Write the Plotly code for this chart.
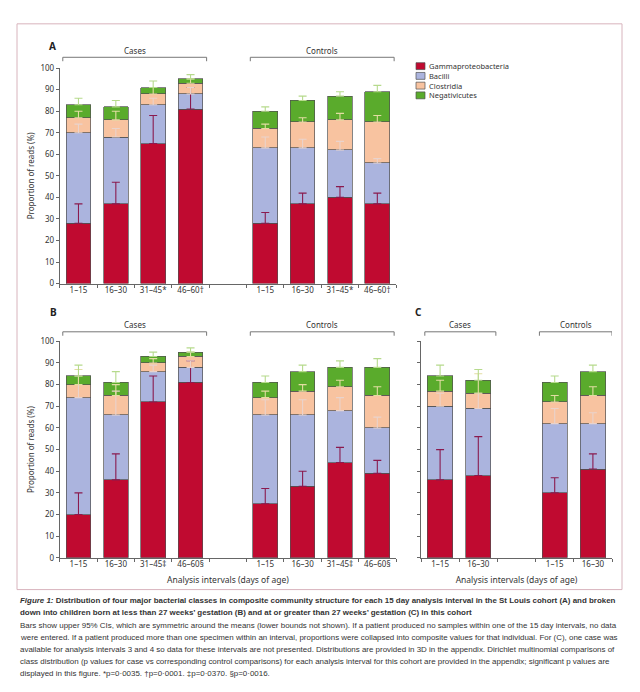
import plotly.graph_objects as go
import numpy as np

# The page body has an 8px margin; the figure is sized to fill the rest of the window.
OFF = 8
W, H = 640 - OFF, 692 - OFF

CLASSES = ["Gammaproteobacteria", "Bacilli", "Clostridia", "Negativicutes"]
COLORS = ["#c00a30", "#abb4de", "#f8c3a0", "#5aab2c"]
ERR_COLORS = ["#8a1a4e", "#e9d3cc", "#e2dda2", "#b6da8c"]

# ---- Panel A: all infants ----
A_pos = [0, 1, 2, 3, 5, 6, 7, 8]
A_labels = ["1–15", "16–30", "31–45*", "46–60†", "1–15", "16–30", "31–45*", "46–60†"]
A_gamma = [28, 37, 65, 81, 28, 37, 40, 37]
A_bacilli = [42, 31, 18, 7, 35, 26, 22, 19]
A_clostridia = [7, 8, 5, 5, 9, 12, 14, 19]
A_negativicutes = [6, 6, 3, 2, 8, 10, 11, 14]
A_gamma_err = [9, 10, 13, 10, 5, 5, 5, 5]
A_bacilli_err = [4, 4, 3, 3, 5, 4, 4, 2]
A_clostridia_err = [3, 4, 3, 2, 2, 2, 3, 3]
A_negativicutes_err = [3, 3, 3, 2, 2, 2, 2, 3]

# ---- Panel B: <27 weeks' gestation ----
B_pos = [0, 1, 2, 3, 5, 6, 7, 8]
B_labels = ["1–15", "16–30", "31–45‡", "46–60§", "1–15", "16–30", "31–45‡", "46–60§"]
B_gamma = [20, 36, 72, 81, 25, 33, 44, 39]
B_bacilli = [54, 30, 14, 7, 41, 33, 24, 21]
B_clostridia = [6, 9, 4, 5, 8, 11, 11, 15]
B_negativicutes = [4, 6, 3, 2, 7, 9, 9, 13]
B_gamma_err = [10, 12, 12, 10, 7, 7, 7, 6]
B_bacilli_err = [10, 11, 3, 3, 7, 7, 6, 5]
B_clostridia_err = [7, 5, 2, 2, 3, 3, 3, 4]
B_negativicutes_err = [5, 5, 2, 2, 3, 3, 3, 4]

# ---- Panel C: >=27 weeks' gestation ----
C_pos = [0, 1, 3, 4]
C_labels = ["1–15", "16–30", "1–15", "16–30"]
C_gamma = [36, 38, 30, 41]
C_bacilli = [34, 31, 32, 21]
C_clostridia = [7, 7, 10, 13]
C_negativicutes = [7, 6, 9, 11]
C_gamma_err = [14, 18, 7, 7]
C_bacilli_err = [6, 7, 7, 5]
C_clostridia_err = [5, 9, 3, 4]
C_negativicutes_err = [5, 5, 3, 3]

Y_TICKS = list(range(0, 101, 10))
GROUPS = ["Cases", "Controls"]

FONT = "Noto Sans"
CAP_FONT = "Liberation Sans, Arial, sans-serif"


def fx(p):
    return (p - OFF) / W


def fy(p):
    return 1 - (p - OFF) / H


panels = [
    dict(name="A", pos=A_pos, labels=A_labels,
         vals=[A_gamma, A_bacilli, A_clostridia, A_negativicutes],
         errs=[A_gamma_err, A_bacilli_err, A_clostridia_err, A_negativicutes_err],
         xpx=(59.8, 396), ypx=(63, 282), xr=[-0.5, 8.5], ax="", ov="4",
         ylabels=True, xtitle=None, letter=(47, 31), bry=52, brl=45,
         brackets=[(-0.42, 3.43), (4.6, 8.45)]),
    dict(name="B", pos=B_pos, labels=B_labels,
         vals=[B_gamma, B_bacilli, B_clostridia, B_negativicutes],
         errs=[B_gamma_err, B_bacilli_err, B_clostridia_err, B_negativicutes_err],
         xpx=(59.8, 396), ypx=(340.7, 560.7), xr=[-0.5, 8.5], ax="2", ov="5",
         ylabels=True, xtitle="Analysis intervals (days of age)", letter=(48, 311),
         bry=331, brl=323.5, brackets=[(-0.42, 3.43), (4.6, 8.45)]),
    dict(name="C", pos=C_pos, labels=C_labels,
         vals=[C_gamma, C_bacilli, C_clostridia, C_negativicutes],
         errs=[C_gamma_err, C_bacilli_err, C_clostridia_err, C_negativicutes_err],
         xpx=(421, 612), ypx=(340.7, 560.7), xr=[-0.5, 4.5], ax="3", ov="6",
         ylabels=False, xtitle="Analysis intervals (days of age)", letter=(418, 311),
         bry=331, brl=323.5, brackets=[(-0.4, 1.46), (2.6, 4.5)]),
]

fig = go.Figure()
layout = dict(
    width=W, height=H, margin=dict(l=0, r=0, t=0, b=0),
    paper_bgcolor="white", plot_bgcolor="white",
    barmode="stack", bargap=0.34,
    font=dict(family=FONT, size=8, color="#333333"),
    showlegend=False,
)
shapes = []
annotations = []

for pi, p in enumerate(panels):
    xa = "x" + p["ax"]
    ya = "y" + p["ax"]
    xo = "x" + p["ov"]
    tops = np.cumsum(np.array(p["vals"]), axis=0)
    for ci in range(4):
        fig.add_trace(go.Bar(
            x=p["pos"], y=p["vals"][ci], name=CLASSES[ci],
            marker=dict(color=COLORS[ci], line=dict(color="#505050", width=0.7)),
            width=0.66, xaxis=xa, yaxis=ya, legendgroup=CLASSES[ci],
            showlegend=False, hoverinfo="skip"))
    for ci in range(4):
        fig.add_trace(go.Scatter(
            x=p["pos"], y=tops[ci], mode="markers",
            marker=dict(size=1, color="rgba(0,0,0,0)"),
            error_y=dict(type="data", symmetric=False, array=p["errs"][ci],
                         arrayminus=[0] * len(p["pos"]), color=ERR_COLORS[ci],
                         thickness=1.1, width=4),
            xaxis=xo, yaxis=ya, showlegend=False, hoverinfo="skip"))

    xdom = [fx(p["xpx"][0]), fx(p["xpx"][1])]
    ydom = [fy(p["ypx"][1]), fy(p["ypx"][0])]
    half = list(np.arange(p["xr"][0], p["xr"][1] + 0.01, 1.0))
    xkey = "xaxis" + p["ax"]
    ykey = "yaxis" + p["ax"]
    okey = "xaxis" + p["ov"]
    layout[xkey] = dict(domain=xdom, range=p["xr"], anchor=ya, showgrid=False,
                        zeroline=False, showline=True, linecolor="#666", linewidth=1,
                        ticks="outside", ticklen=3, tickcolor="#666",
                        tickvals=half, showticklabels=False, fixedrange=True)
    if p["xtitle"]:
        layout[xkey]["title"] = dict(text=p["xtitle"], standoff=16,
                                     font=dict(size=8.5, color="#333"))
    layout[okey] = dict(overlaying=xa, range=p["xr"], anchor=ya, showgrid=False,
                        zeroline=False, showline=False, ticks="",
                        tickvals=p["pos"], ticktext=p["labels"],
                        tickfont=dict(size=8, color="#333"), fixedrange=True)
    layout[ykey] = dict(domain=ydom, range=[0, 100], anchor=xa, showgrid=False,
                        zeroline=False, showline=True, linecolor="#666", linewidth=1,
                        ticks="outside", ticklen=3, tickcolor="#666",
                        tickvals=Y_TICKS, showticklabels=p["ylabels"],
                        tickfont=dict(size=8, color="#333"), fixedrange=True)
    if p["ylabels"]:
        layout[ykey]["title"] = dict(text="Proportion of reads (%)", standoff=4,
                                     font=dict(size=8, color="#333"))

    # panel letter
    annotations.append(dict(text="<b>%s</b>" % p["name"], x=fx(p["letter"][0]),
                            y=fy(p["letter"][1]), xref="paper", yref="paper",
                            showarrow=False, font=dict(size=10, color="#222")))
    # group brackets
    for (b0, b1), g in zip(p["brackets"], GROUPS):
        shapes.append(dict(type="path", xref=xa, yref="paper",
                           path="M %f,%f L %f,%f L %f,%f L %f,%f" % (
                               b0, fy(p["bry"] + 4), b0, fy(p["bry"]),
                               b1, fy(p["bry"]), b1, fy(p["bry"] + 4)),
                           line=dict(color="#777", width=1)))
        annotations.append(dict(text=g, x=(b0 + b1) / 2, y=fy(p["brl"]), xref=xa,
                                yref="paper", showarrow=False, yanchor="middle",
                                font=dict(size=8, color="#333")))

# key (legend)
LEG_X, LEG_Y0, LEG_DY = 416, 61, 9.9
for ci, (nm, col) in enumerate(zip(CLASSES, COLORS)):
    cy = LEG_Y0 + ci * LEG_DY
    shapes.append(dict(type="rect", xref="paper", yref="paper",
                       x0=fx(LEG_X), x1=fx(LEG_X + 9), y0=fy(cy + 3.5), y1=fy(cy - 3.5),
                       fillcolor=col, line=dict(color="#505050", width=0.7)))
    annotations.append(dict(text=nm, x=fx(LEG_X + 12), y=fy(cy), xref="paper",
                            yref="paper", xanchor="left", yanchor="middle",
                            showarrow=False, borderpad=0,
                            font=dict(size=7.5, color="#333")))

# figure frame
shapes.append(dict(type="rect", xref="paper", yref="paper", x0=fx(17), x1=fx(622),
                   y0=fy(593), y1=fy(18), line=dict(color="#d8b4bd", width=1)))

CAPTION = [
    ("<b><i>Figure 1:</i> Distribution of four major bacterial classes in composite community structure for each 15 day analysis interval in the St Louis cohort (A) and broken</b>", 604),
    ("<b>down into children born at less than 27 weeks’ gestation (B) and at or greater than 27 weeks’ gestation (C) in this cohort</b>", 616.5),
    ("Bars show upper 95% CIs, which are symmetric around the means (lower bounds not shown). If a patient produced no samples within one of the 15 day intervals, no data", 629),
    ("were entered. If a patient produced more than one specimen within an interval, proportions were collapsed into composite values for that individual. For (C), one case was", 641.5),
    ("available for analysis intervals 3 and 4 so data for these intervals are not presented. Distributions are provided in 3D in the appendix. Dirichlet multinomial comparisons of", 654),
    ("class distribution (p values for case vs corresponding control comparisons) for each analysis interval for this cohort are provided in the appendix; significant p values are", 666),
    ("displayed in this figure. *p=0·0035. †p=0·0001. ‡p=0·0370. §p=0·0016.", 678.5),
]
for txt, yy in CAPTION:
    annotations.append(dict(text=txt, x=fx(19), y=fy(yy), xref="paper", yref="paper",
                            xanchor="left", yanchor="middle", showarrow=False,
                            borderpad=0,
                            font=dict(family=CAP_FONT, size=7.95, color="#333")))

layout["shapes"] = shapes
layout["annotations"] = annotations
fig.update_layout(**layout)
fig.write_html("out.html")
